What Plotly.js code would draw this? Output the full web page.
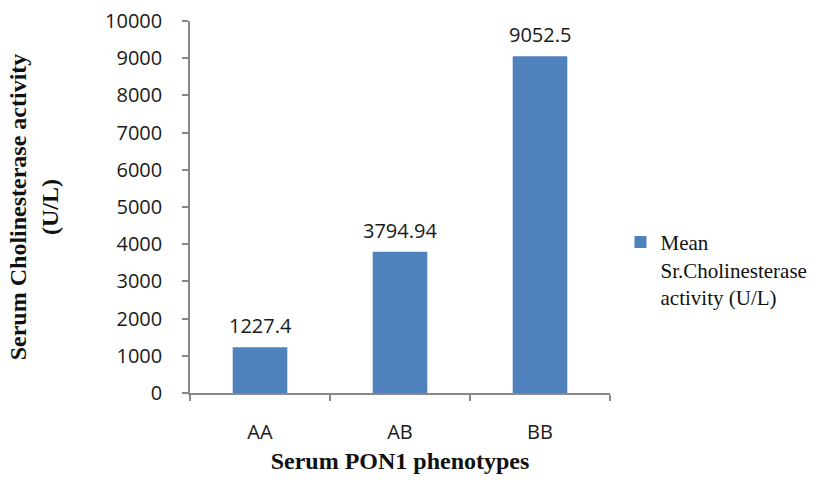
<!DOCTYPE html>
<html><head><meta charset="utf-8">
<script src="https://cdn.plot.ly/plotly-3.0.1.min.js"></script>
<style>html,body{margin:0;padding:0;background:#fff;}#chart{width:829px;height:480px;}</style>
</head><body><div id="chart"></div>
<script>
const categories = ["AA", "AB", "BB"];
const meanValues = [1227.4, 3794.94, 9052.5];
const valueLabels = ["1227.4", "3794.94", "9052.5"];
const yTickVals = [0,1000,2000,3000,4000,5000,6000,7000,8000,9000,10000];
const yTickText = ["0","1000","2000","3000","4000","5000","6000","7000","8000","9000","10000"];
const seriesName = "Mean<br>Sr.Cholinesterase<br>activity (U/L)";

const trace = {
  type: "bar",
  x: categories,
  y: meanValues,
  name: seriesName,
  marker: {color: "#4f81bd"},
  width: 0.39,
  showlegend: true,
  hoverinfo: "x+y"
};

const annotations = categories.map((c, i) => ({
  x: c, y: meanValues[i], text: valueLabels[i],
  xref: "x", yref: "y", showarrow: false,
  yanchor: "bottom", yshift: 6,
  font: {family: "Open Sans, sans-serif", size: 20, color: "#1a1a1a"}
}));

const layout = {
  width: 829, height: 480,
  margin: {l: 190, r: 219, t: 21, b: 87},
  paper_bgcolor: "#fff", plot_bgcolor: "#fff",
  xaxis: {
    type: "category",
    automargin: false,
    showline: true, linecolor: "#888", linewidth: 1.5,
    ticks: "outside", ticklen: 6, tickcolor: "#888", tickwidth: 1.5,
    tickson: "boundaries",
    ticklabelstandoff: 20,
    showgrid: false, zeroline: false,
    tickfont: {family: "Open Sans, sans-serif", size: 20, color: "#1a1a1a"},
    title: {text: "<b>Serum PON1 phenotypes</b>", standoff: 8,
            font: {family: "Liberation Serif, Times New Roman, serif", size: 24, color: "#111"}}
  },
  yaxis: {
    range: [0, 10000],
    automargin: false,
    tickvals: yTickVals,
    ticktext: yTickText,
    showline: true, linecolor: "#888", linewidth: 1.5,
    ticks: "outside", ticklen: 6, tickcolor: "#888", tickwidth: 1.5,
    ticklabelstandoff: 16,
    showgrid: false, zeroline: false,
    tickfont: {family: "Open Sans, sans-serif", size: 20, color: "#1a1a1a"},
    title: {text: "<b>Serum Cholinesterase activity<br>(U/L)</b>", standoff: 40,
            font: {family: "Liberation Serif, Times New Roman, serif", size: 24, color: "#111"}}
  },
  legend: {
    x: 1.025, xanchor: "left", y: 0.46, yanchor: "top",
    valign: "top",
    font: {family: "Liberation Serif, Times New Roman, serif", size: 21, color: "#111"},
    itemwidth: 30, tracegroupgap: 0
  },
  annotations: annotations
};

Plotly.newPlot("chart", [trace], layout, {displayModeBar: false, responsive: false});
</script></body></html>
